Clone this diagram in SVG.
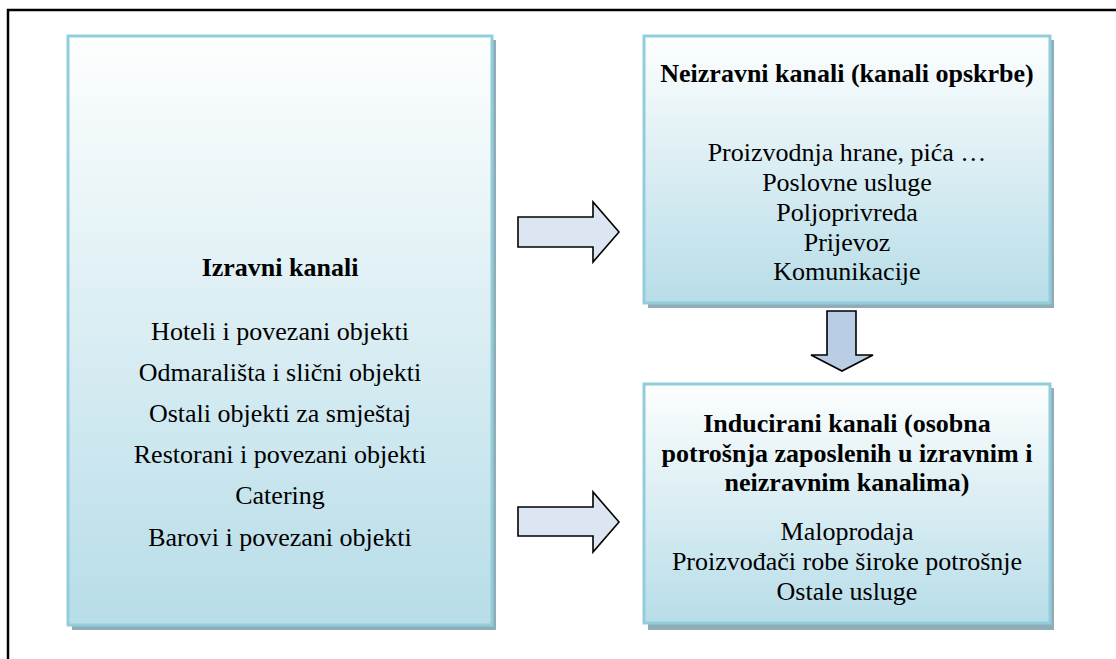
<svg xmlns="http://www.w3.org/2000/svg" width="1116" height="659" viewBox="0 0 1116 659">
<defs>
<linearGradient id="g" x1="0" y1="0" x2="0" y2="1">
<stop offset="0" stop-color="#fdfefe"/>
<stop offset="1" stop-color="#b7dde8"/>
</linearGradient>
<style>
.box{fill:url(#g);stroke:#92cddc;stroke-width:3}
.sh{fill:#8fadb6}
.arr{stroke:#000;stroke-width:1.6;stroke-linejoin:miter}
text{font-family:"Liberation Serif","Times New Roman",serif;font-size:26px;fill:#000;text-anchor:middle}
.b{font-weight:bold}
</style>
</defs>
<rect x="0" y="0" width="1116" height="659" fill="#fff"/>
<rect x="8" y="10" width="1130" height="700" fill="none" stroke="#000" stroke-width="2.5"/>
<g id="izravni">
<rect class="sh" x="72" y="40" width="424" height="590"/>
<rect class="box" x="68" y="36" width="424" height="589"/>
<text class="b" x="280" y="276">Izravni kanali</text>
<text x="280" y="340">Hoteli i povezani objekti</text>
<text x="280" y="381">Odmarališta i slični objekti</text>
<text x="280" y="422">Ostali objekti za smještaj</text>
<text x="280" y="463">Restorani i povezani objekti</text>
<text x="280" y="504">Catering</text>
<text x="280" y="546">Barovi i povezani objekti</text>
</g>
<g id="neizravni">
<rect class="sh" x="648" y="40" width="406" height="268"/>
<rect class="box" x="644" y="36" width="406" height="267"/>
<text class="b" x="847" y="82">Neizravni kanali (kanali opskrbe)</text>
<text x="847" y="161">Proizvodnja hrane, pića …</text>
<text x="847" y="191">Poslovne usluge</text>
<text x="847" y="221">Poljoprivreda</text>
<text x="847" y="251">Prijevoz</text>
<text x="847" y="280">Komunikacije</text>
</g>
<g id="inducirani">
<rect class="sh" x="648" y="388" width="406" height="242"/>
<rect class="box" x="644" y="384" width="406" height="239"/>
<text class="b" x="847" y="432">Inducirani kanali (osobna</text>
<text class="b" x="847" y="462">potrošnja zaposlenih u izravnim i</text>
<text class="b" x="847" y="491">neizravnim kanalima)</text>
<text x="847" y="540">Maloprodaja</text>
<text x="847" y="570">Proizvođači robe široke potrošnje</text>
<text x="847" y="600">Ostale usluge</text>
</g>
<g id="connectors">
<polygon class="arr" fill="#dce6f2" points="518,217 593,217 593,202 619,232 593,262 593,247 518,247"/>
<polygon class="arr" fill="#dce6f2" points="518,507 593,507 593,492 619,522 593,552 593,536 518,536"/>
<polygon class="arr" fill="#b9cde5" points="827,311 856,311 856,355 873,355 842,371 811,355 827,355"/>
</g>
</svg>
